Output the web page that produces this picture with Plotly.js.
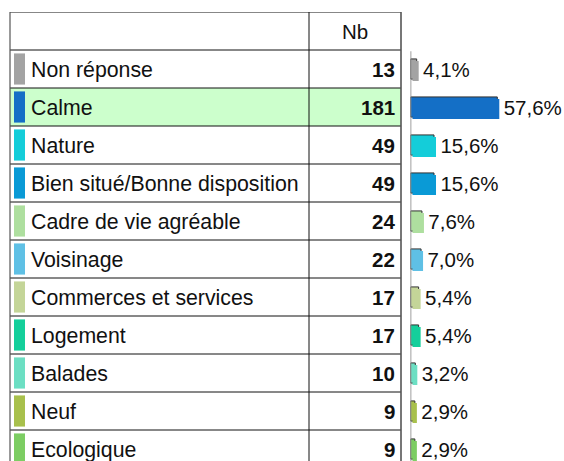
<!DOCTYPE html>
<html>
<head>
<meta charset="utf-8">
<script src="https://cdn.plot.ly/plotly-3.0.1.min.js"></script>
<style>html,body{margin:0;padding:0;background:#fff;}#chart{width:564px;height:461px;}</style>
</head>
<body>
<div id="chart"></div>
<script>
const categories = ["Non réponse", "Calme", "Nature", "Bien situé/Bonne disposition", "Cadre de vie agréable", "Voisinage", "Commerces et services", "Logement", "Balades", "Neuf", "Ecologique"];
const counts = [13, 181, 49, 49, 24, 22, 17, 17, 10, 9, 9];
const percents = [4.1, 57.6, 15.6, 15.6, 7.6, 7.0, 5.4, 5.4, 3.2, 2.9, 2.9];
const colors = ["#a3a3a3", "#146fc6", "#14cdd9", "#0a9ad6", "#aedf9f", "#5fc0e5", "#c4d598", "#14cf9b", "#6cdfc3", "#a8c04c", "#7ccd63"];
const headerLabel = "Nb";
const highlightIndex = 1;

const W = 564, H = 461;
const FONT = "Liberation Sans, Arial, sans-serif";
const px = v => v / W;
const rowIdx = categories.map((c, i) => i);
const xZeroPx = 410.5, pxPerUnit = 1.507, rowPx = 38, topPx = 12;
const xMax = (W - xZeroPx) / pxPerUnit;
const yTop = -1.5, yBot = yTop + (H - topPx) / rowPx;
const shX = 2 / pxPerUnit, shY = 2 / rowPx;

const shadow = {
  type: "bar", orientation: "h", x: percents, y: rowIdx,
  xaxis: "x2", yaxis: "y2", width: 0.53,
  marker: {color: colors, line: {width: 0}},
  hoverinfo: "skip", showlegend: false
};
const bars = {
  type: "bar", orientation: "h", x: percents, y: rowIdx,
  width: 0.53,
  marker: {color: colors, line: {color: "#333333", width: 1}},
  text: percents.map(v => "\u200A\u200A" + v.toFixed(1).replace(".", ",") + "%"),
  textposition: "outside", cliponaxis: false, constraintext: "none",
  textfont: {family: FONT, size: 20.5, color: "#111"},
  hoverinfo: "skip", showlegend: false
};

const shapes = [];
const annotations = [];
// highlight row
shapes.push({type: "rect", xref: "paper", yref: "y", x0: px(10), x1: px(401),
  y0: highlightIndex - 0.5, y1: highlightIndex + 0.5, fillcolor: "#ccffcc", line: {width: 0}, layer: "below"});
// horizontal lines
for (let i = -2; i < categories.length - 1; i++) {
  shapes.push({type: "line", xref: "paper", yref: "y", x0: px(10), x1: px(401),
    y0: i + 0.5, y1: i + 0.5, line: {color: "#111", width: 1}});
}
// vertical lines
[[10, "#555", 1.2], [309, "#111", 1], [401, "#555", 1.6]].forEach(([x, c, w]) => {
  shapes.push({type: "line", xref: "paper", yref: "y", x0: px(x), x1: px(x),
    y0: yTop, y1: yBot, line: {color: c, width: w}});
});
// bar axis line
shapes.push({type: "line", xref: "x", yref: "y", x0: 0, x1: 0, y0: -0.5 + 0.03, y1: yBot,
  line: {color: "#888", width: 1.6}});
// swatches
rowIdx.forEach(i => {
  shapes.push({type: "rect", xref: "paper", yref: "y", x0: px(14), x1: px(25),
    y0: i - 0.41, y1: i + 0.41, fillcolor: colors[i], line: {width: 0}});
  annotations.push({xref: "paper", yref: "y", x: px(28.5), y: i, yshift: -1, text: categories[i],
    xanchor: "left", yanchor: "middle", showarrow: false,
    font: {family: FONT, size: 21.3, color: "#111"}});
  annotations.push({xref: "paper", yref: "y", x: px(397), y: i, text: "<b>" + counts[i] + "</b>",
    xanchor: "right", yanchor: "middle", showarrow: false,
    font: {family: FONT, size: 20.5, color: "#111"}});
});
annotations.push({xref: "paper", yref: "y", x: px(355), y: -1, text: headerLabel,
  xanchor: "center", yanchor: "middle", showarrow: false,
  font: {family: FONT, size: 20.5, color: "#111"}});

const layout = {
  width: W, height: H,
  margin: {l: 0, r: 0, t: topPx, b: 0, pad: 0},
  paper_bgcolor: "#fff", plot_bgcolor: "rgba(0,0,0,0)",
  separators: ", ",
  barmode: "overlay",
  showlegend: false,
  xaxis: {domain: [px(xZeroPx), 1], range: [0, xMax], visible: false, fixedrange: true},
  xaxis2: {domain: [px(xZeroPx), 1], range: [-shX, xMax - shX], visible: false, anchor: "y2"},
  yaxis: {domain: [0, 1], range: [yBot, yTop], visible: false, fixedrange: true},
  yaxis2: {domain: [0, 1], range: [yBot - shY, yTop - shY], visible: false, anchor: "x2", overlaying: "y"},
  shapes: shapes,
  annotations: annotations
};

Plotly.newPlot("chart", [shadow, bars], layout, {displayModeBar: false, staticPlot: true});
</script>
</body>
</html>
